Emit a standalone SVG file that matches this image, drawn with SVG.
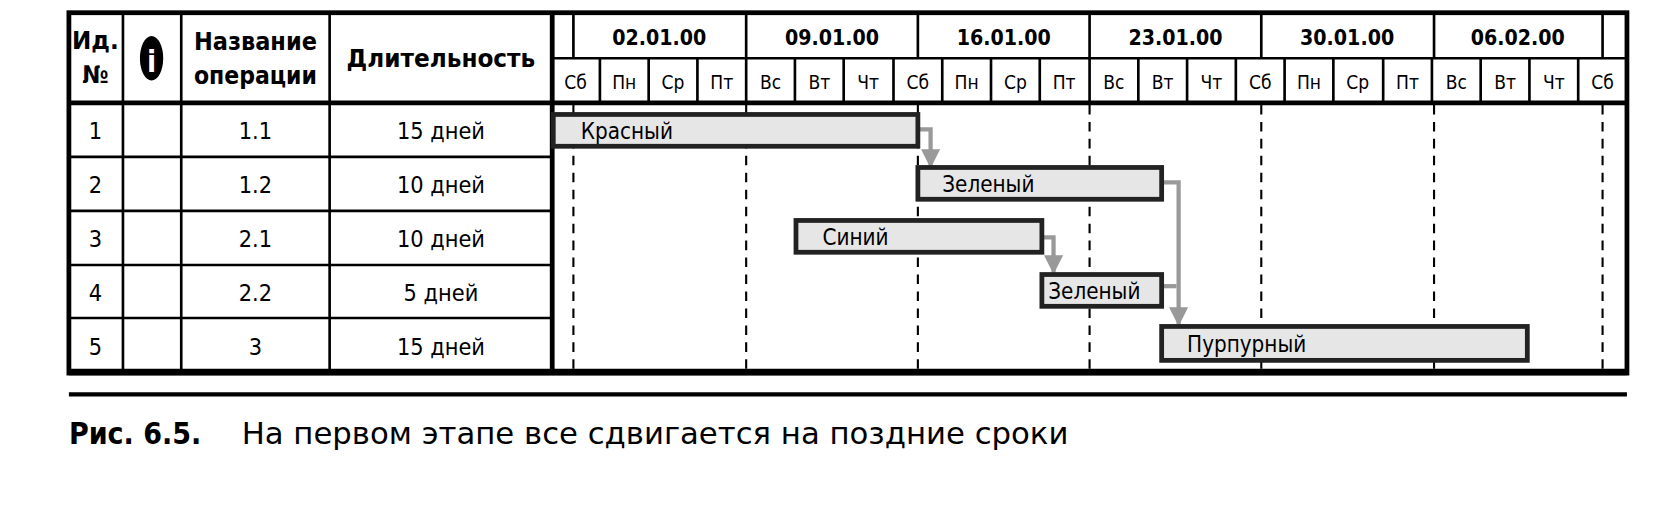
<svg xmlns="http://www.w3.org/2000/svg" width="1662" height="508" viewBox="0 0 1662 508">
<style>
text{font-family:"DejaVu Sans Condensed","Liberation Sans",sans-serif;fill:#000}
.h{font-weight:bold;font-size:20px;text-anchor:middle}
.h2{font-weight:bold;font-size:23px;text-anchor:middle}
.d{font-size:18px;text-anchor:middle}
.c{font-size:22px;text-anchor:middle}
.bl{font-size:21px}
.thin{stroke:#000;stroke-width:2.5;fill:none}
.thick{stroke:#000;stroke-width:4.5;fill:none}
.dash{stroke:#000;stroke-width:2;stroke-dasharray:9 7;fill:none}
.bar{fill:#e6e6e6;stroke:#222;stroke-width:4.5}
.arr{stroke:#999;stroke-width:4;fill:none}
</style>
<defs><marker id="ah" viewBox="0 0 10 10" refX="9" refY="5" markerWidth="5.5" markerHeight="4.5" orient="auto" markerUnits="strokeWidth"><path d="M0,0L10,5L0,10z" fill="#999"/></marker></defs>
<rect width="1662" height="508" fill="#fff"/>
<g transform="scale(1.0599)">
<g id="grid">
<path class="dash" d="M541 99V350M704 99V350M866 99V350M1028 99V350M1190 99V350M1353 99V350M1512 99V350"/>
<path class="thin" d="M116 12V352M171 12V352M311 12V352M65 148H521M65 199H521M65 250H521M65 300H521M521 55H1535M541 12V55M704 12V97M866 12V55M1028 12V55M1190 12V55M1353 12V55M1512 12V55"/>
<path class="thin" d="M566 55V97M612 55V97M658 55V97M750 55V97M796 55V97M843 55V97M889 55V97M935 55V97M981 55V97M1028 55V97M1074 55V97M1120 55V97M1166 55V97M1212 55V97M1258 55V97M1305 55V97M1351 55V97M1397 55V97M1443 55V97M1489 55V97"/>
<path class="thick" d="M65 97H1535M521 12V352"/>
<rect x="65" y="12" width="1470" height="340" class="thick"/>
<path stroke="#000" stroke-width="6" d="M65 351H1535"/>
</g>
<g id="header">
<text class="h2" x="90" y="46" textLength="44" lengthAdjust="spacingAndGlyphs">Ид.</text><text class="h2" x="90" y="78">№</text>
<ellipse cx="143" cy="55" rx="11" ry="21" fill="#000"/>
<text x="143" y="68" font-size="28" font-weight="bold" text-anchor="middle" style="fill:#fff">i</text>
<text class="h2" x="241" y="47" textLength="116" lengthAdjust="spacingAndGlyphs">Название</text><text class="h2" x="241" y="79" textLength="116" lengthAdjust="spacingAndGlyphs">операции</text>
<text class="h2" x="416" y="63" textLength="178" lengthAdjust="spacingAndGlyphs">Длительность</text>
<text class="h" x="622" y="42">02.01.00</text><text class="h" x="785" y="42">09.01.00</text><text class="h" x="947" y="42">16.01.00</text><text class="h" x="1109" y="42">23.01.00</text><text class="h" x="1271" y="42">30.01.00</text><text class="h" x="1432" y="42">06.02.00</text>
<text class="d" y="84"><tspan x="543">Сб</tspan><tspan x="589">Пн</tspan><tspan x="635">Ср</tspan><tspan x="681">Пт</tspan><tspan x="727">Вс</tspan><tspan x="773">Вт</tspan><tspan x="819">Чт</tspan><tspan x="866">Сб</tspan><tspan x="912">Пн</tspan><tspan x="958">Ср</tspan><tspan x="1004">Пт</tspan><tspan x="1051">Вс</tspan><tspan x="1097">Вт</tspan><tspan x="1143">Чт</tspan><tspan x="1189">Сб</tspan><tspan x="1235">Пн</tspan><tspan x="1281">Ср</tspan><tspan x="1328">Пт</tspan><tspan x="1374">Вс</tspan><tspan x="1420">Вт</tspan><tspan x="1466">Чт</tspan><tspan x="1512">Сб</tspan></text>
</g>
<g id="rows">
<text class="c" y="131"><tspan x="90">1</tspan><tspan x="241">1.1</tspan><tspan x="416">15 дней</tspan></text>
<text class="c" y="182"><tspan x="90">2</tspan><tspan x="241">1.2</tspan><tspan x="416">10 дней</tspan></text>
<text class="c" y="233"><tspan x="90">3</tspan><tspan x="241">2.1</tspan><tspan x="416">10 дней</tspan></text>
<text class="c" y="284"><tspan x="90">4</tspan><tspan x="241">2.2</tspan><tspan x="416">5 дней</tspan></text>
<text class="c" y="335"><tspan x="90">5</tspan><tspan x="241">3</tspan><tspan x="416">15 дней</tspan></text>
</g>
<g id="connectors">
<path class="arr" marker-end="url(#ah)" d="M866 122H878V157"/>
<path class="arr" marker-end="url(#ah)" d="M1096 172H1112V306"/>
<path class="arr" marker-end="url(#ah)" d="M983 224H994V257"/>
<path class="arr" d="M1096 270H1110"/>
</g>
<g id="bar1"><rect class="bar" x="522" y="108" width="344" height="30"/><text class="bl" x="548" y="131">Красный</text></g>
<g id="bar2"><rect class="bar" x="866" y="158" width="230" height="30"/><text class="bl" x="889" y="181">Зеленый</text></g>
<g id="bar3"><rect class="bar" x="751" y="208" width="232" height="30"/><text class="bl" x="776" y="231">Синий</text></g>
<g id="bar4"><rect class="bar" x="983" y="259" width="113" height="30"/><text class="bl" x="989" y="282">Зеленый</text></g>
<g id="bar5"><rect class="bar" x="1096" y="308" width="345" height="32"/><text class="bl" x="1120" y="332">Пурпурный</text></g>
<g id="caption">
<path stroke="#000" stroke-width="4" d="M65 372H1535"/>
<text x="65" y="419" font-size="28" font-weight="bold" textLength="125" lengthAdjust="spacingAndGlyphs">Рис. 6.5.</text>
<text x="228" y="419" font-size="28" textLength="780" lengthAdjust="spacingAndGlyphs">На первом этапе все сдвигается на поздние сроки</text>
</g>
</g>
</svg>
